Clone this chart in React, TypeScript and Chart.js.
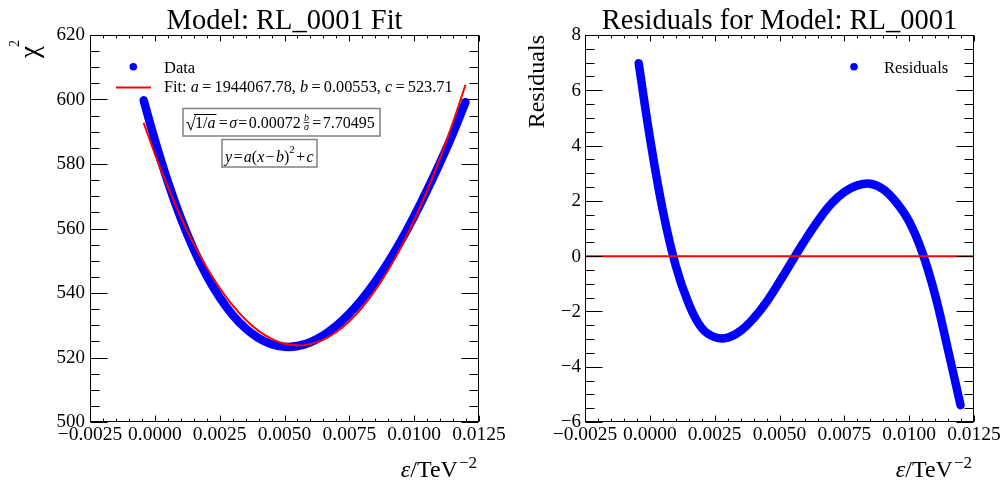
import React, { useEffect, useRef } from "react";
import { Chart, registerables } from "chart.js";

Chart.register(...registerables);

// ---------- data ----------
const epsilon = [-0.00043, 0.0, 0.0005, 0.001, 0.0015, 0.002, 0.0025, 0.003, 0.0035, 0.004, 0.0045, 0.005, 0.0055, 0.006, 0.0065, 0.007, 0.0075, 0.008, 0.0085, 0.009, 0.0095, 0.01, 0.0105, 0.011, 0.0115, 0.01198];
const chi2 = [599.75, 587.46, 574.55, 563.25, 553.56, 545.33, 538.63, 533.2, 529.02, 526.01, 524.11, 523.33, 523.55, 524.74, 526.84, 529.81, 533.57, 538.13, 543.48, 549.54, 556.3, 563.8, 571.88, 580.48, 589.6, 599.2];
const residuals = [6.98, 4.3, 1.65, -0.35, -1.72, -2.6, -2.93, -2.95, -2.7, -2.25, -1.66, -0.93, -0.16, 0.6, 1.3, 1.9, 2.32, 2.56, 2.62, 2.42, 1.95, 1.25, 0.15, -1.4, -3.4, -5.39];

const fitEpsilon = [-0.00043, 0.0, 0.0005, 0.001, 0.0015, 0.002, 0.0025, 0.003, 0.0035, 0.004, 0.0045, 0.005, 0.00553, 0.006, 0.0065, 0.007, 0.0075, 0.008, 0.0085, 0.009, 0.0095, 0.01, 0.0105, 0.011, 0.0115, 0.01198];
const fitChi2 = [592.77, 583.16, 572.9, 563.6, 555.28, 547.93, 541.56, 536.15, 531.72, 528.26, 525.77, 524.26, 523.71, 524.14, 525.54, 527.91, 531.25, 535.57, 540.86, 547.12, 554.35, 562.55, 571.73, 581.88, 593.0, 604.59];

const zeroLineEpsilon = [-0.0025, 0.0125];
const zeroLineValues = [0, 0];

const xTicks = [-0.0025, 0.0, 0.0025, 0.005, 0.0075, 0.01, 0.0125];
const xTickLabels = ["\u22120.0025", "0.0000", "0.0025", "0.0050", "0.0075", "0.0100", "0.0125"];
const chiTicks = [500, 520, 540, 560, 580, 600, 620];
const chiTickLabels = ["500", "520", "540", "560", "580", "600", "620"];
const resTicks = [-6, -4, -2, 0, 2, 4, 6, 8];
const resTickLabels = ["\u22126", "\u22124", "\u22122", "0", "2", "4", "6", "8"];

const BLUE = "#0000ff";
const RED = "#ff0000";
const FONT = '"Liberation Serif", "Times New Roman", serif';

type Run = { t: string; it?: boolean; size?: number; dy?: number };

function drawRuns(ctx: CanvasRenderingContext2D, runs: Run[], x: number, y: number, base: number) {
  let cx = x;
  ctx.textAlign = "left";
  ctx.textBaseline = "alphabetic";
  for (const r of runs) {
    const s = r.size ?? base;
    ctx.font = `${r.it ? "italic " : ""}${s}px ${FONT}`;
    ctx.fillText(r.t, cx, y + (r.dy ?? 0));
    cx += ctx.measureText(r.t).width;
  }
  return cx;
}

function runsWidth(ctx: CanvasRenderingContext2D, runs: Run[], base: number) {
  let w = 0;
  for (const r of runs) {
    const s = r.size ?? base;
    ctx.font = `${r.it ? "italic " : ""}${s}px ${FONT}`;
    w += ctx.measureText(r.t).width;
  }
  return w;
}

const TS = "\u2009";
const HS = "\u200a";

type FrameOpts = {
  xMin: number; xMax: number; xMinor: number; xPerMajor: number;
  yMin: number; yMax: number; yMinor: number; yPerMajor: number;
  xTicks: number[]; xLabels: string[];
  yTicks: number[]; yLabels: string[];
  yLabelGap: number;
  title: string;
  kind: "fit" | "res";
};

const framePlugin = {
  id: "rootFrame",
  afterDraw(chart: any, _args: any, o: FrameOpts) {
    const ctx: CanvasRenderingContext2D = chart.ctx;
    const a = chart.chartArea;
    const xs = chart.scales.x;
    const ys = chart.scales.y;
    ctx.save();
    ctx.strokeStyle = "#000";
    ctx.fillStyle = "#000";
    ctx.lineWidth = 1;
    const L = Math.round(a.left) + 0.5;
    const R = Math.round(a.right) - 0.5;
    const T = Math.round(a.top) + 0.5;
    const B = Math.round(a.bottom) - 0.5;
    ctx.strokeRect(L, T, R - L, B - T);

    // x ticks (bottom & top)
    const nx = Math.round((o.xMax - o.xMin) / o.xMinor);
    ctx.beginPath();
    for (let i = 0; i <= nx; i++) {
      const v = o.xMin + i * o.xMinor;
      const px = Math.round(xs.getPixelForValue(v)) + 0.5;
      const len = i % o.xPerMajor === 0 ? 6 : 3;
      ctx.moveTo(px, B); ctx.lineTo(px, B - len);
      ctx.moveTo(px, T); ctx.lineTo(px, T + len);
    }
    // y ticks (left & right)
    const ny = Math.round((o.yMax - o.yMin) / o.yMinor);
    for (let i = 0; i <= ny; i++) {
      const v = o.yMin + i * o.yMinor;
      const py = Math.round(ys.getPixelForValue(v)) + 0.5;
      const len = i % o.yPerMajor === 0 ? 17 : 9;
      ctx.moveTo(L, py); ctx.lineTo(L + len, py);
      ctx.moveTo(R, py); ctx.lineTo(R - len, py);
    }
    ctx.stroke();

    // tick labels
    ctx.font = `19.5px ${FONT}`;
    ctx.textAlign = "center";
    ctx.textBaseline = "alphabetic";
    o.xTicks.forEach((v, i) => {
      ctx.fillText(o.xLabels[i], xs.getPixelForValue(v), a.bottom + 18);
    });
    ctx.font = `19px ${FONT}`;
    ctx.textAlign = "right";
    ctx.textBaseline = "middle";
    o.yTicks.forEach((v, i) => {
      ctx.fillText(o.yLabels[i], a.left - o.yLabelGap, ys.getPixelForValue(v) + 0.5);
    });

    // title
    ctx.font = `28.5px ${FONT}`;
    ctx.textAlign = "center";
    ctx.textBaseline = "alphabetic";
    ctx.fillText(o.title, (a.left + a.right) / 2, 29);

    // x axis title
    const supRuns: Run[] = [{ t: "\u22122", size: 17 }];
    const supW = runsWidth(ctx, supRuns, 17);
    const mainRuns: Run[] = [{ t: "\u03b5", it: true }, { t: "/TeV" }];
    const mainW = runsWidth(ctx, mainRuns, 24);
    const endX = a.right - 2;
    drawRuns(ctx, mainRuns, endX - supW - 1 - mainW, 477, 24);
    drawRuns(ctx, supRuns, endX - supW, 468, 17);

    if (o.kind === "fit") {
      // y axis title chi^2
      ctx.save();
      ctx.translate(38, 58);
      ctx.rotate(-Math.PI / 2);
      ctx.textAlign = "left";
      ctx.textBaseline = "alphabetic";
      ctx.font = `27px ${FONT}`;
      ctx.fillText("\u03c7", 0, 0);
      ctx.font = `14px ${FONT}`;
      ctx.fillText("2", 11, -19);
      ctx.restore();

      // legend
      ctx.fillStyle = BLUE;
      ctx.beginPath();
      ctx.arc(133.3, 66.7, 3.8, 0, Math.PI * 2);
      ctx.fill();
      ctx.strokeStyle = RED;
      ctx.lineWidth = 2;
      ctx.beginPath();
      ctx.moveTo(116, 87.5);
      ctx.lineTo(151, 87.5);
      ctx.stroke();
      ctx.fillStyle = "#000";
      drawRuns(ctx, [{ t: "Data" }], 164, 73, 16.5);
      drawRuns(ctx, [
        { t: "Fit: " }, { t: "a", it: true }, { t: TS + "=" + TS }, { t: "1944067.78, " },
        { t: "b", it: true }, { t: TS + "=" + TS }, { t: "0.00553, " },
        { t: "c", it: true }, { t: TS + "=" + TS }, { t: "523.71" },
      ], 164, 92, 16.3);

      // text box 1
      ctx.fillStyle = "#fff";
      ctx.strokeStyle = "#808080";
      ctx.lineWidth = 1.5;
      ctx.fillRect(183, 108.5, 197, 27.5);
      ctx.strokeRect(183, 108.5, 197, 27.5);
      ctx.fillStyle = "#000";
      ctx.strokeStyle = "#000";
      ctx.lineWidth = 1;
      drawRuns(ctx, [{ t: "\u221a", size: 19 }], 185.5, 130, 19);
      const afterRoot = drawRuns(ctx, [{ t: "1/" }, { t: "a", it: true }], 195, 127.5, 16);
      ctx.beginPath();
      ctx.moveTo(194, 114.5);
      ctx.lineTo(afterRoot + 1, 114.5);
      ctx.stroke();
      drawRuns(ctx, [{ t: HS + "=" + HS }, { t: "\u03c3", it: true }, { t: HS + "=" + HS }, { t: "0.00072" }], afterRoot + 2, 127.5, 16);
      ctx.textAlign = "center";
      ctx.font = `italic 10px ${FONT}`;
      ctx.fillText("b", 306.5, 120.5);
      ctx.fillText("\u03c3", 306.5, 130);
      ctx.beginPath();
      ctx.moveTo(303.5, 122.5);
      ctx.lineTo(309.5, 122.5);
      ctx.lineWidth = 0.7;
      ctx.stroke();
      drawRuns(ctx, [{ t: HS + "=" + HS }, { t: "7.70495" }], 311, 127.5, 16);

      // text box 2
      ctx.fillStyle = "#fff";
      ctx.strokeStyle = "#808080";
      ctx.lineWidth = 1.5;
      ctx.fillRect(222, 139.5, 95, 27.5);
      ctx.strokeRect(222, 139.5, 95, 27.5);
      ctx.fillStyle = "#000";
      drawRuns(ctx, [
        { t: "y", it: true }, { t: HS + "=" + HS }, { t: "a", it: true }, { t: "(" },
        { t: "x", it: true }, { t: HS + "\u2212" + HS }, { t: "b", it: true }, { t: ")" },
        { t: "2", size: 11, dy: -9 }, { t: HS + "+" + HS }, { t: "c", it: true },
      ], 225, 161.5, 16);
    } else {
      // y axis title
      ctx.save();
      ctx.translate(41, 35);
      ctx.rotate(-Math.PI / 2);
      ctx.textAlign = "right";
      ctx.textBaseline = "alphabetic";
      ctx.font = `24px ${FONT}`;
      ctx.fillText("Residuals", 0, 0);
      ctx.restore();

      // legend
      ctx.fillStyle = BLUE;
      ctx.beginPath();
      ctx.arc(351, 66.7, 3.8, 0, Math.PI * 2);
      ctx.fill();
      ctx.fillStyle = "#000";
      drawRuns(ctx, [{ t: "Residuals" }], 381, 73, 16.5);
    }
    ctx.restore();
  },
};

function makeConfig(kind: "fit" | "res", padLeft: number, padRight: number): any {
  const isFit = kind === "fit";
  const band = {
    borderColor: BLUE,
    borderWidth: 8.5,
    borderCapStyle: "round",
    borderJoinStyle: "round",
    pointRadius: 0,
    tension: 0.4,
    fill: false,
    order: 1,
  };
  const datasets: any[] = isFit
    ? [
        {
          label: "Fit",
          data: fitEpsilon.map((x, i) => ({ x, y: fitChi2[i] })),
          borderColor: RED,
          borderWidth: 2,
          pointRadius: 0,
          tension: 0.4,
          fill: false,
          order: 0,
        },
        { label: "Data", data: epsilon.map((x, i) => ({ x, y: chi2[i] })), ...band },
      ]
    : [
        {
          label: "Zero",
          data: zeroLineEpsilon.map((x, i) => ({ x, y: zeroLineValues[i] })),
          borderColor: RED,
          borderWidth: 2,
          pointRadius: 0,
          fill: false,
          order: 0,
        },
        { label: "Residuals", data: epsilon.map((x, i) => ({ x, y: residuals[i] })), ...band },
      ];
  const frame: FrameOpts = {
    xMin: -0.0025, xMax: 0.0125, xMinor: 0.0005, xPerMajor: 5,
    yMin: isFit ? 500 : -6, yMax: isFit ? 620 : 8, yMinor: isFit ? 5 : 0.5, yPerMajor: 4,
    xTicks, xLabels: xTickLabels,
    yTicks: isFit ? chiTicks : resTicks, yLabels: isFit ? chiTickLabels : resTickLabels,
    yLabelGap: isFit ? 5 : 4,
    title: isFit ? "Model: RL_0001 Fit" : "Residuals for Model: RL_0001",
    kind,
  };
  return {
    type: "line",
    data: { datasets },
    options: {
      animation: false,
      responsive: false,
      events: [],
      layout: { padding: { left: padLeft, right: padRight, top: 35, bottom: 65 } },
      scales: {
        x: { type: "linear", min: -0.0025, max: 0.0125, display: false },
        y: { type: "linear", min: isFit ? 500 : -6, max: isFit ? 620 : 8, display: false },
      },
      plugins: {
        legend: { display: false },
        tooltip: { enabled: false },
        title: { display: false },
        rootFrame: frame,
      },
    },
    plugins: [framePlugin],
  };
}

function Panel({ kind, left, width, padLeft, padRight }: { kind: "fit" | "res"; left: number; width: number; padLeft: number; padRight: number }) {
  const ref = useRef<HTMLCanvasElement | null>(null);
  useEffect(() => {
    if (!ref.current) return;
    const chart = new Chart(ref.current, makeConfig(kind, padLeft, padRight));
    return () => chart.destroy();
  }, [kind, padLeft, padRight]);
  return (
    <canvas
      ref={ref}
      width={width}
      height={487}
      style={{ position: "absolute", left, top: 0, width, height: 487 }}
    />
  );
}

export default function App() {
  return (
    <div style={{ position: "fixed", left: 0, top: 0, width: 1006, height: 487, background: "#fff", overflow: "hidden" }}>
      <Panel kind="fit" left={0} width={520} padLeft={90} padRight={41} />
      <Panel kind="res" left={503} width={503} padLeft={82} padRight={32} />
    </div>
  );
}
